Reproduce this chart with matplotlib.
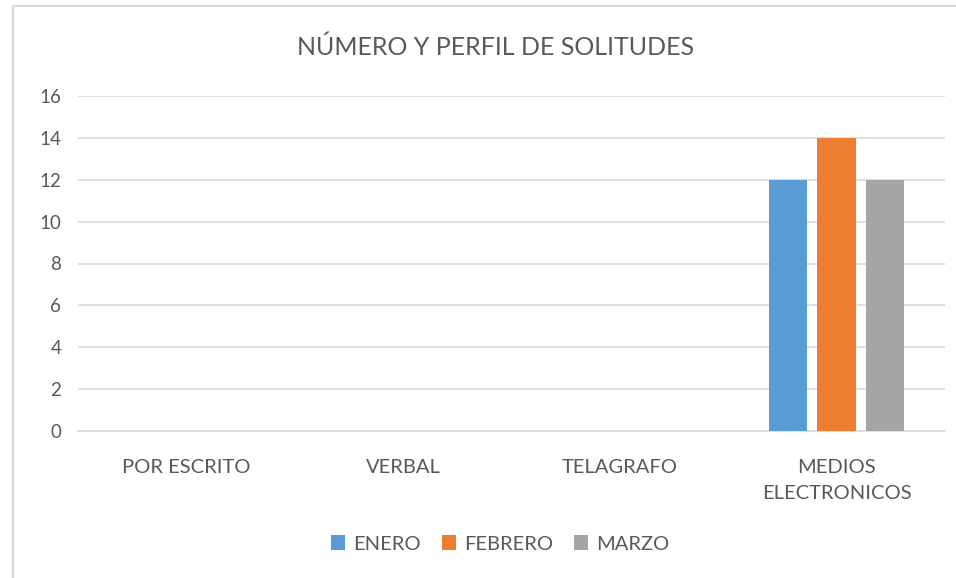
import numpy as np
import matplotlib.pyplot as plt
from matplotlib.patches import Rectangle

categories = ["POR ESCRITO", "VERBAL", "TELAGRAFO", "MEDIOS\nELECTRONICOS"]
series_names = ["ENERO", "FEBRERO", "MARZO"]
enero = [0, 0, 0, 12]
febrero = [0, 0, 0, 14]
marzo = [0, 0, 0, 12]
colors = ["#5B9BD5", "#ED7D31", "#A5A5A5"]

plt.rcParams.update({
    "font.family": ["Lato", "DejaVu Sans"],
    "text.color": "#595959",
    "xtick.color": "#595959",
    "ytick.color": "#595959",
})

fig = plt.figure(figsize=(9.56, 5.78), dpi=100)
ax = fig.add_axes([78 / 956, 1 - 431 / 578, (945 - 78) / 956, (431 - 96) / 578])

# outer chart frame
fig.patches.append(Rectangle((13 / 956, -0.1), 1.1, 1 - 6 / 578 + 0.1,
                             transform=fig.transFigure, fill=False,
                             edgecolor="#D9D9D9", linewidth=1.5))

x = np.arange(len(categories))
width = 0.177
offsets = [-0.223, 0, 0.223]
for vals, name, col, off in zip([enero, febrero, marzo], series_names, colors, offsets):
    ax.bar(x + off, vals, width, color=col, label=name, zorder=3)

ax.set_xlim(-0.5, len(categories) - 0.5)
ax.set_ylim(0, 16)
ax.set_yticks(range(0, 17, 2))
ax.yaxis.grid(True, color="#D9D9D9", linewidth=1.2, zorder=0)
ax.set_axisbelow(True)
for s in ["top", "right", "left"]:
    ax.spines[s].set_visible(False)
ax.spines["bottom"].set_color("#D9D9D9")
ax.spines["bottom"].set_linewidth(1.2)
ax.tick_params(axis="both", length=0)
ax.tick_params(axis="y", pad=12, labelsize=13.5)
ax.tick_params(axis="x", pad=20, labelsize=14.5)
ax.set_xticks(x)
ax.set_xticklabels(categories, linespacing=1.65)

fig.text(0.518, 1 - 47 / 578, "NÚMERO Y PERFIL DE SOLITUDES", ha="center",
         va="center", fontsize=18)

fig.legend(loc="center", bbox_to_anchor=(0.523, 1 - 544 / 578), ncol=3,
           frameon=False, fontsize=14.5, handlelength=0.7, handleheight=0.7,
           handletextpad=0.4, columnspacing=1.05)

fig.savefig("out.png", dpi=100)
